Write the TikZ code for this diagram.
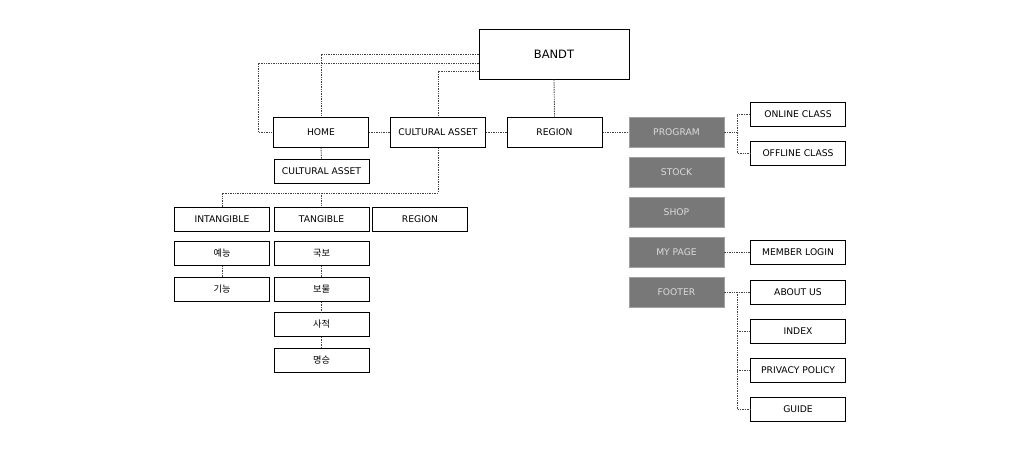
\documentclass[tikz,border=0pt]{standalone}
\usepackage{fontspec}
\setmainfont{DejaVu Sans}
\newfontfamily\kr{Noto Sans CJK KR}
\definecolor{boxgray}{HTML}{787878}
\definecolor{txtgray}{HTML}{DADADA}
\definecolor{linegray}{HTML}{444444}
\begin{document}
\begin{tikzpicture}[x=1pt,y=-1pt,
  wbox/.style={draw=black,line width=1pt,fill=white,minimum width=95pt,minimum height=24pt,inner sep=0pt,font=\fontsize{9.2}{10}\selectfont},
  tbox/.style={wbox,minimum height=30pt},
  gbox/.style={draw=boxgray!70!white,line width=0.6pt,fill=boxgray,text=txtgray,minimum width=95pt,minimum height=30pt,inner sep=0pt,font=\fontsize{9.2}{10}\selectfont},
  link/.style={draw=linegray,line width=0.9pt,dash pattern=on 1.4pt off 1pt}]
\useasboundingbox (0,0) rectangle (1020,450);
% top
\node[wbox,minimum width=150pt,minimum height=50pt,font=\fontsize{11.5}{13}\selectfont] (bandt) at (554,54) {BANDT};
\node[tbox] (home) at (321,132) {HOME};
\node[tbox] (ca) at (438,132) {CULTURAL ASSET};
\node[tbox] (region) at (554.5,132) {REGION};
% right gray column
\node[gbox] (program) at (676.5,132) {PROGRAM};
\node[gbox] (stock) at (676.5,172) {STOCK};
\node[gbox] (shop) at (676.5,212) {SHOP};
\node[gbox] (mypage) at (676.5,252) {MY PAGE};
\node[gbox] (footer) at (676.5,292) {FOOTER};
% right white
\node[wbox] (online) at (798,114) {ONLINE CLASS};
\node[wbox] (offline) at (798,153) {OFFLINE CLASS};
\node[wbox] (member) at (798,252) {MEMBER LOGIN};
\node[wbox] (about) at (798,292) {ABOUT US};
\node[wbox] (index) at (798,331) {INDEX};
\node[wbox] (privacy) at (798,370) {PRIVACY POLICY};
\node[wbox] (guide) at (798,409) {GUIDE};
% left
\node[wbox] (ca2) at (321.5,171) {CULTURAL ASSET};
\node[wbox] (intang) at (222,219) {INTANGIBLE};
\node[wbox] (tang) at (321.5,219) {TANGIBLE};
\node[wbox] (region2) at (420,219) {REGION};
\node[wbox] (yeneung) at (222,253) {\kr 예능};
\node[wbox] (gineung) at (222,289.5) {\kr 기능};
\node[wbox] (gukbo) at (321.5,253) {\kr 국보};
\node[wbox] (bomul) at (321.5,289.5) {\kr 보물};
\node[wbox] (sajeok) at (321.5,324.5) {\kr 사적};
\node[wbox] (myeongseung) at (321.5,360.5) {\kr 명승};
% coordinates
\coordinate (b1) at (bandt.west |- 0,54);
\coordinate (b2) at (bandt.west |- 0,63);
\coordinate (b3) at (bandt.west |- 0,71);
\coordinate (split) at (0,193);
\coordinate (pj) at (737,132);
\coordinate (fj) at (737,292);
% connectors
\draw[link] (b1) -| (home.north);
\draw[link] (b2) -| (258,132) -- (home.west);
\draw[link] (b3) -| (ca.north);
\draw[link] (bandt.south) -- (region.north);
\draw[link] (home.east) -- (ca.west);
\draw[link] (ca.east) -- (region.west);
\draw[link] (region.east) -- (program.west);
\draw[link] (home.south) -- (ca2.north);
\draw[link] (ca.south) |- (split -| intang.north) -- (intang.north);
\draw[link] (split -| tang.north) -- (tang.north);
\draw[link] (yeneung.south) -- (gineung.north);
\draw[link] (gukbo.south) -- (bomul.north);
\draw[link] (bomul.south) -- (sajeok.north);
\draw[link] (sajeok.south) -- (myeongseung.north);
\draw[link] (program.east) -- (pj);
\draw[link] (online.west) -| (pj) |- (offline.west);
\draw[link] (mypage.east) -- (member.west);
\draw[link] (footer.east) -- (about.west);
\draw[link] (fj) |- (guide.west);
\draw[link] (fj |- index.west) -- (index.west);
\draw[link] (fj |- privacy.west) -- (privacy.west);
\end{tikzpicture}
\end{document}
